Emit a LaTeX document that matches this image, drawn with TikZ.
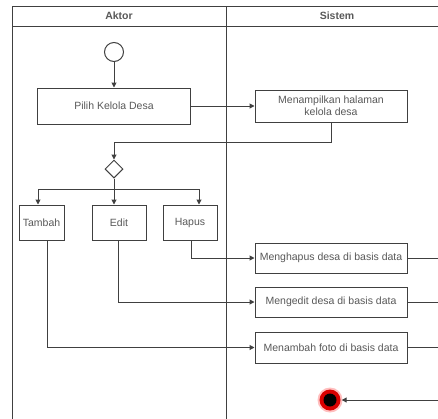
\documentclass[tikz,border=0pt]{standalone}
\usepackage{fontspec}
\setmainfont{Liberation Sans}
\usetikzlibrary{arrows.meta,shapes.geometric}
\definecolor{ln}{gray}{0.25}
\definecolor{tx}{gray}{0.35}
\begin{document}
\begin{tikzpicture}[x=1pt,y=-1pt,
  line/.style={draw=ln,line width=1pt},
  arr/.style={line,-{Triangle[length=5pt,width=5pt]}},
  act/.style={draw=ln,line width=1pt,rectangle,inner sep=0pt,font=\fontsize{10.5}{12}\selectfont,text=tx,align=center},
  hdr/.style={font=\fontsize{10.5}{12}\selectfont\bfseries,text=tx}]
\useasboundingbox (0,0) rectangle (438,418);
\fill[white] (0,0) rectangle (438,418);
\begin{scope}
\clip (0,0) rectangle (438,418);
% swimlanes
\draw[line] (12,430) -- (12,6) -- (460,6);
\draw[line] (12,26) -- (460,26);
\draw[line] (226,6) -- (226,430);
\node[hdr] (aktor) at (119,16) {Aktor};
\node[hdr] (sistem) at (337,16) {Sistem};
% start
\node[circle,draw=ln,line width=1pt,minimum size=19pt,inner sep=0pt] (start) at (114,52) {};
\node[act,minimum width=153pt,minimum height=36pt] (pilih) at (114,106) {Pilih Kelola Desa};
\node[act,minimum width=152pt,minimum height=32pt] (tampil) at (331,106) {Menampilkan halaman\\kelola desa};
\node[diamond,draw=ln,line width=1pt,minimum width=18pt,minimum height=18pt,inner sep=0pt] (dec) at (114,169) {};
\node[act,minimum width=45pt,minimum height=35pt] (tambah) at (41.5,222.5) {Tambah};
\node[act,minimum width=54pt,minimum height=35pt] (edit) at (119,222.5) {Edit};
\node[act,minimum width=54pt,minimum height=35pt] (hapus) at (190,222.5) {Hapus};
\node[act,minimum width=152pt,minimum height=30pt] (mhapus) at (331,258) {Menghapus desa di basis data};
\node[act,minimum width=152pt,minimum height=30pt] (medit) at (331,302) {Mengedit desa di basis data};
\node[act,minimum width=152pt,minimum height=31pt] (mtambah) at (331,347.5) {Menambah foto di basis data};
% end node
\fill[red!25] (330,400) circle (12.5);
\fill[red!85!black] (330,400) circle (10.5);
\node[circle,fill=black,minimum size=13pt,inner sep=0pt] (end) at (330,400) {};
\node[circle,minimum size=23pt,inner sep=0pt] (endring) at (330,400) {};
% right side return path
\coordinate (r1) at (450,258);
\coordinate (r2) at (450,302);
\coordinate (r3) at (450,347.5);
\coordinate (r4) at (450,400);
% connectors
\draw[arr] (start) -- (pilih);
\draw[arr] (pilih) -- (tampil);
\draw[arr] (tampil.south) |- (331,142) -| (dec.north);
\draw[arr] (dec.south) -- (edit.north -| dec.south);
\draw[line] (38,189) -- (199,189);
\draw[arr] (38,189) -- (tambah.north -| 38,0);
\draw[arr] (199,189) -- (hapus.north -| 199,0);
\draw[arr] (hapus.south -| 191,0) |- (mhapus.west);
\draw[arr] (edit.south -| 118,0) |- (medit.west);
\draw[arr] (tambah.south -| 47,0) |- (mtambah.west);
\draw[line] (mhapus.east) -- (r1);
\draw[line] (medit.east) -- (r2);
\draw[line] (mtambah.east) -- (r3);
\draw[line] (r1) -- (r4);
\draw[arr] (r4) -- (endring.east);
\end{scope}
\end{tikzpicture}
\end{document}
